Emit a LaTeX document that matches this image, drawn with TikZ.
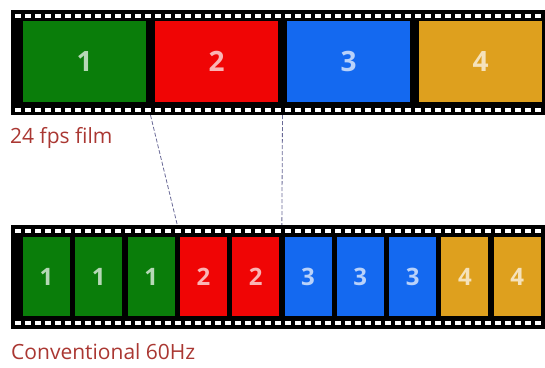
\documentclass[tikz,border=0pt]{standalone}
\usepackage{fontspec}
\setmainfont{Open Sans}
\usetikzlibrary{positioning,calc}
\definecolor{fgreen}{RGB}{10,125,10}
\definecolor{fred}{RGB}{240,5,5}
\definecolor{fblue}{RGB}{20,105,240}
\definecolor{fgold}{RGB}{222,160,30}
\definecolor{flabel}{RGB}{170,55,50}
\definecolor{flink}{RGB}{105,105,150}

\begin{document}
\begin{tikzpicture}[x=1pt,y=-1pt,
  strip/.style={fill=black,inner sep=0pt,minimum width=534pt},
  bigframe/.style={inner sep=0pt,minimum width=123pt,minimum height=81pt,
    font=\fontsize{28}{28}\selectfont\bfseries},
  smallframe/.style={inner sep=0pt,minimum width=47pt,minimum height=79pt,
    font=\fontsize{24}{24}\selectfont\bfseries},
  hole/.style={fill=white},
  caption/.style={anchor=base west,inner sep=0pt,text=flabel,
    font=\fontsize{21}{21}\selectfont},
  link/.style={flink,dash pattern=on 4pt off 2pt,line width=0.8pt}
]
  \useasboundingbox (0,0) rectangle (545,367);
  % 24 fps strip
  \node[strip,minimum height=105pt] (top) at (278,62.5) {};
  \foreach \x in {15,25,...,535} {
    \fill[hole] (\x,13.5) rectangle ++(6,4);
    \fill[hole] (\x,107.5) rectangle ++(6,4);
  }
  \foreach \i/\c/\t in {1/fgreen/1,2/fred/2,3/fblue/3,4/fgold/4}
    \node[bigframe,fill=\c,text=\c!30!white] (f\i) at ({84.5+132*(\i-1)},61.5) {\t};
  % 60 Hz strip
  \node[strip,minimum height=104pt] (bot) at (278,277) {};
  \foreach \x in {15,25,...,535} {
    \fill[hole] (\x,228.5) rectangle ++(6,4);
    \fill[hole] (\x,320.5) rectangle ++(6,4);
  }
  \foreach \i/\c/\t in {1/fgreen/1,2/fgreen/1,3/fgreen/1,4/fred/2,5/fred/2,
      6/fblue/3,7/fblue/3,8/fblue/3,9/fgold/4,10/fgold/4}
    \node[smallframe,fill=\c,text=\c!30!white] (g\i) at ({46.5+52.3*(\i-1)},276.5) {\t};
  % Captions
  \node[caption] (film) at (10,143) {24 fps film};
  \node[caption] (tv) at (11,359) {Conventional 60Hz};
  % Frame boundaries
  \coordinate (cutA) at ($(f1.south east)!.5!(f2.south west)$);
  \coordinate (cutB) at ($(f2.south east)!.5!(f3.south west)$);
  \coordinate (cutC) at ($(g3.north east)!.5!(g4.north west)$);
  \coordinate (cutD) at ($(g5.north east)!.5!(g6.north west)$);
  \draw[link] (cutA |- top.south) -- (cutC |- bot.north);
  \draw[link] (cutB |- top.south) -- (cutD |- bot.north);
\end{tikzpicture}
\end{document}
